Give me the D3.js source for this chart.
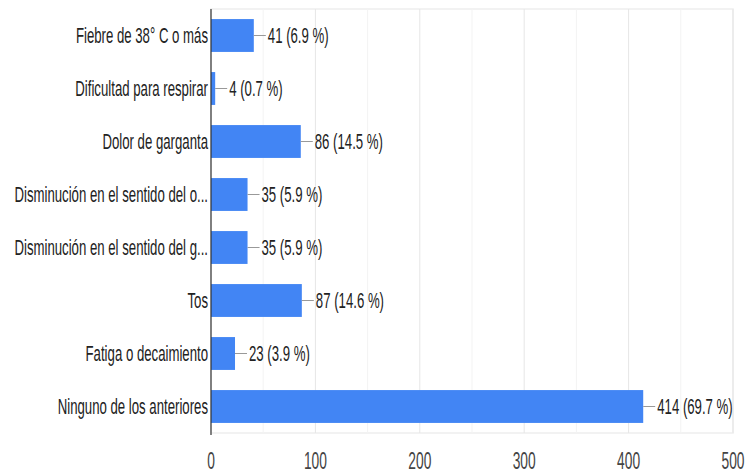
<!DOCTYPE html>
<html>
<head>
<meta charset="utf-8">
<script src="https://cdn.jsdelivr.net/npm/d3@7"></script>
<style>
  html, body { margin: 0; padding: 0; background: #fff; }
  svg { display: block; }
  text { font-family: "Liberation Sans", Arial, sans-serif; }
</style>
</head>
<body>
<svg id="chart" width="749" height="474"></svg>
<script>
// Symptom responses
const categories = [
  "Fiebre de 38° C o más",
  "Dificultad para respirar",
  "Dolor de garganta",
  "Disminución en el sentido del o...",
  "Disminución en el sentido del g...",
  "Tos",
  "Fatiga o decaimiento",
  "Ninguno de los anteriores"
];
const counts = [41, 4, 86, 35, 35, 87, 23, 414];
const percents = ["6.9", "0.7", "14.5", "5.9", "5.9", "14.6", "3.9", "69.7"];
const xTicks = [0, 100, 200, 300, 400, 500];
const xMinorTicks = [50, 150, 250, 350, 450];

const svg = d3.select("#chart");
const plotLeft = 211, plotRight = 733, plotTop = 9, plotBottom = 433;
const squeeze = 0.6; // narrow lettering

const x = d3.scaleLinear().domain([0, 500]).range([plotLeft, plotRight]);
const y = d3.scaleBand().domain(categories).range([plotTop, plotBottom])
  .paddingInner(0.38).paddingOuter(0.19);

// plot frame
svg.append("rect")
  .attr("x", plotLeft).attr("y", plotTop)
  .attr("width", plotRight - plotLeft).attr("height", plotBottom - plotTop)
  .attr("fill", "#fff").attr("stroke", "#eeeeee").attr("stroke-width", 1.5);

// gridlines
svg.append("g").selectAll("line").data(xMinorTicks).join("line")
  .attr("x1", d => x(d)).attr("x2", d => x(d))
  .attr("y1", plotTop).attr("y2", plotBottom)
  .attr("stroke", "#f3f3f3").attr("stroke-width", 1);
svg.append("g").selectAll("line").data(xTicks.slice(1)).join("line")
  .attr("x1", d => x(d)).attr("x2", d => x(d))
  .attr("y1", plotTop).attr("y2", plotBottom)
  .attr("stroke", "#e6e6e6").attr("stroke-width", 1);

// bars
svg.append("g").selectAll("rect").data(counts).join("rect")
  .attr("x", x(0))
  .attr("y", (d, i) => y(categories[i]))
  .attr("width", d => x(d) - x(0))
  .attr("height", y.bandwidth())
  .attr("fill", "#4285f4");

// leader lines and value labels
const ann = svg.append("g").selectAll("g").data(counts).join("g");
ann.append("line")
  .attr("x1", d => x(d)).attr("x2", d => x(d) + 12)
  .attr("y1", (d, i) => y(categories[i]) + y.bandwidth() / 2)
  .attr("y2", (d, i) => y(categories[i]) + y.bandwidth() / 2)
  .attr("stroke", "#999").attr("stroke-width", 1);
ann.append("text")
  .attr("transform", (d, i) => `translate(${x(d) + 14},${y(categories[i]) + y.bandwidth() / 2 + 7.5}) scale(${squeeze},1)`)
  .attr("font-size", 22)
  .attr("fill", "#222")
  .text((d, i) => `${d} (${percents[i]} %)`);

// category labels
svg.append("g").selectAll("text").data(categories).join("text")
  .attr("transform", d => `translate(${plotLeft - 3},${y(d) + y.bandwidth() / 2 + 7.5}) scale(${squeeze},1)`)
  .attr("text-anchor", "end")
  .attr("font-size", 22)
  .attr("fill", "#222")
  .text(d => d);

// vertical baseline
svg.append("line")
  .attr("x1", x(0)).attr("x2", x(0))
  .attr("y1", plotTop).attr("y2", plotBottom + 2)
  .attr("stroke", "#333").attr("stroke-width", 1.2);

// x tick labels
svg.append("g").selectAll("text").data(xTicks).join("text")
  .attr("transform", d => `translate(${x(d)},469) scale(${squeeze},1)`)
  .attr("text-anchor", "middle")
  .attr("font-size", 23)
  .attr("fill", "#444")
  .text(d => d);
</script>
</body>
</html>
